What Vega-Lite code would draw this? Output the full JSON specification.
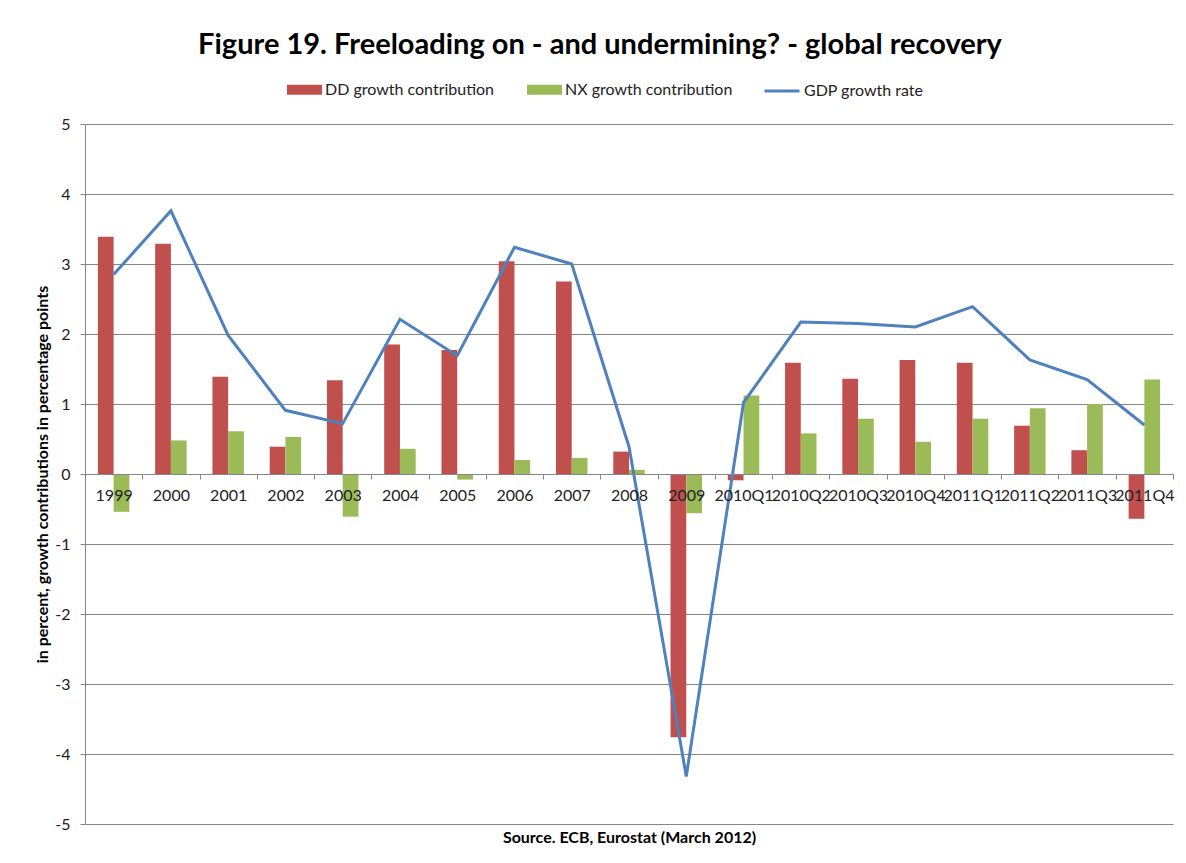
{
  "$schema": "https://vega.github.io/schema/vega-lite/v6.json",
  "autosize": {"type": "none"},
  "width": 1088,
  "height": 700,
  "padding": {"left": 85, "top": 124, "right": 13, "bottom": 39},
  "background": "white",
  "title": {
    "text": "Figure 19. Freeloading on - and undermining? - global recovery",
    "font": "Lato",
    "fontSize": 29,
    "fontWeight": "bold",
    "color": "#000000",
    "anchor": "middle",
    "dx": -29,
    "offset": 12
  },
  "data": {
    "values": [
      {"period": "1999", "series": "DD growth contribution", "value": 3.39},
      {"period": "2000", "series": "DD growth contribution", "value": 3.29},
      {"period": "2001", "series": "DD growth contribution", "value": 1.39},
      {"period": "2002", "series": "DD growth contribution", "value": 0.39},
      {"period": "2003", "series": "DD growth contribution", "value": 1.34},
      {"period": "2004", "series": "DD growth contribution", "value": 1.85},
      {"period": "2005", "series": "DD growth contribution", "value": 1.77},
      {"period": "2006", "series": "DD growth contribution", "value": 3.04},
      {"period": "2007", "series": "DD growth contribution", "value": 2.75},
      {"period": "2008", "series": "DD growth contribution", "value": 0.32},
      {"period": "2009", "series": "DD growth contribution", "value": -3.76},
      {"period": "2010Q1", "series": "DD growth contribution", "value": -0.09},
      {"period": "2010Q2", "series": "DD growth contribution", "value": 1.59},
      {"period": "2010Q3", "series": "DD growth contribution", "value": 1.36},
      {"period": "2010Q4", "series": "DD growth contribution", "value": 1.63},
      {"period": "2011Q1", "series": "DD growth contribution", "value": 1.59},
      {"period": "2011Q2", "series": "DD growth contribution", "value": 0.69},
      {"period": "2011Q3", "series": "DD growth contribution", "value": 0.34},
      {"period": "2011Q4", "series": "DD growth contribution", "value": -0.64},
      {"period": "1999", "series": "NX growth contribution", "value": -0.54},
      {"period": "2000", "series": "NX growth contribution", "value": 0.48},
      {"period": "2001", "series": "NX growth contribution", "value": 0.61},
      {"period": "2002", "series": "NX growth contribution", "value": 0.53},
      {"period": "2003", "series": "NX growth contribution", "value": -0.61},
      {"period": "2004", "series": "NX growth contribution", "value": 0.36},
      {"period": "2005", "series": "NX growth contribution", "value": -0.08},
      {"period": "2006", "series": "NX growth contribution", "value": 0.2},
      {"period": "2007", "series": "NX growth contribution", "value": 0.23},
      {"period": "2008", "series": "NX growth contribution", "value": 0.06},
      {"period": "2009", "series": "NX growth contribution", "value": -0.56},
      {"period": "2010Q1", "series": "NX growth contribution", "value": 1.12},
      {"period": "2010Q2", "series": "NX growth contribution", "value": 0.58},
      {"period": "2010Q3", "series": "NX growth contribution", "value": 0.79},
      {"period": "2010Q4", "series": "NX growth contribution", "value": 0.46},
      {"period": "2011Q1", "series": "NX growth contribution", "value": 0.79},
      {"period": "2011Q2", "series": "NX growth contribution", "value": 0.94},
      {"period": "2011Q3", "series": "NX growth contribution", "value": 1.0},
      {"period": "2011Q4", "series": "NX growth contribution", "value": 1.35},
      {"period": "1999", "series": "GDP growth rate", "value": 2.85},
      {"period": "2000", "series": "GDP growth rate", "value": 3.76},
      {"period": "2001", "series": "GDP growth rate", "value": 1.98},
      {"period": "2002", "series": "GDP growth rate", "value": 0.91},
      {"period": "2003", "series": "GDP growth rate", "value": 0.72},
      {"period": "2004", "series": "GDP growth rate", "value": 2.21},
      {"period": "2005", "series": "GDP growth rate", "value": 1.69},
      {"period": "2006", "series": "GDP growth rate", "value": 3.24},
      {"period": "2007", "series": "GDP growth rate", "value": 3.0},
      {"period": "2008", "series": "GDP growth rate", "value": 0.39},
      {"period": "2009", "series": "GDP growth rate", "value": -4.32},
      {"period": "2010Q1", "series": "GDP growth rate", "value": 1.02},
      {"period": "2010Q2", "series": "GDP growth rate", "value": 2.17},
      {"period": "2010Q3", "series": "GDP growth rate", "value": 2.15},
      {"period": "2010Q4", "series": "GDP growth rate", "value": 2.1},
      {"period": "2011Q1", "series": "GDP growth rate", "value": 2.39},
      {"period": "2011Q2", "series": "GDP growth rate", "value": 1.63},
      {"period": "2011Q3", "series": "GDP growth rate", "value": 1.35},
      {"period": "2011Q4", "series": "GDP growth rate", "value": 0.7}
    ]
  },
  "encoding": {
    "x": {
      "field": "period",
      "type": "nominal",
      "sort": null,
      "scale": {"paddingInner": 0, "paddingOuter": 0},
      "axis": {
        "orient": "bottom",
        "offset": -350,
        "zindex": 1,
        "title": "Source. ECB, Eurostat (March 2012)",
        "titleFont": "Lato",
        "titleFontSize": 16,
        "titleFontWeight": "bold",
        "titleColor": "#000000",
        "titleBaseline": "middle",
        "titleY": 363,
        "labelAngle": 0,
        "labelFont": "Lato",
        "labelFontSize": 16,
        "labelColor": "#222222",
        "labelOverlap": false,
        "labelBound": false,
        "labelFlush": false,
        "labelPadding": 8,
        "domainColor": "#868686",
        "tickColor": "#868686",
        "tickSize": 5,
        "tickBand": "extent",
        "grid": false
      }
    },
    "y": {
      "field": "value",
      "type": "quantitative",
      "scale": {"domain": [-5, 5], "nice": false, "zero": false},
      "axis": {
        "values": [-5, -4, -3, -2, -1, 0, 1, 2, 3, 4, 5],
        "title": "in percent, growth contributions in percentage points",
        "titleFont": "Lato",
        "titleFontSize": 16,
        "titleFontWeight": "bold",
        "titleColor": "#000000",
        "titleX": -43,
        "titleY": 350,
        "titleAngle": -90,
        "titleBaseline": "middle",
        "titleAlign": "center",
        "labelFont": "Lato",
        "labelFontSize": 16,
        "labelColor": "#222222",
        "labelPadding": 10,
        "labelExpr": "'' + datum.value",
        "grid": true,
        "gridColor": "#868686",
        "gridWidth": 1,
        "domainColor": "#868686",
        "tickColor": "#868686",
        "tickSize": 5
      }
    }
  },
  "layer": [
    {
      "transform": [{"filter": "datum.series !== 'GDP growth rate'"}],
      "mark": {"type": "bar", "opacity": 1},
      "encoding": {
        "xOffset": {
          "field": "series",
          "type": "nominal",
          "scale": {"domain": ["DD growth contribution", "NX growth contribution"], "paddingInner": 0, "paddingOuter": 0.82}
        },
        "fill": {
          "field": "series",
          "type": "nominal",
          "scale": {
            "domain": ["DD growth contribution", "NX growth contribution"],
            "range": ["#C0504D", "#9BBB59"]
          },
          "legend": {
            "orient": "none",
            "direction": "horizontal",
            "legendX": 202,
            "legendY": -52,
            "title": null,
            "symbolType": "M-1,-0.29H1V0.29H-1Z",
            "symbolSize": 1225,
            "symbolStrokeWidth": 0,
            "symbolOpacity": 1,
            "labelOffset": 3,
            "columnPadding": 32,
            "labelLimit": 0,
            "labelFont": "Lato",
            "labelFontSize": 16,
            "labelColor": "#222222"
          }
        }
      }
    },
    {
      "transform": [{"filter": "datum.series === 'GDP growth rate'"}],
      "mark": {"type": "line", "strokeWidth": 3, "opacity": 1},
      "encoding": {
        "stroke": {
          "field": "series",
          "type": "nominal",
          "scale": {"domain": ["GDP growth rate"], "range": ["#4F81BD"]},
          "legend": {
            "orient": "none",
            "direction": "horizontal",
            "legendX": 678,
            "legendY": -52,
            "title": null,
            "symbolType": "stroke",
            "symbolSize": 1225,
            "symbolStrokeWidth": 3,
            "symbolOpacity": 1,
            "labelOffset": 3,
            "labelLimit": 0,
            "labelFont": "Lato",
            "labelFontSize": 16,
            "labelColor": "#222222"
          }
        }
      }
    }
  ],
  "resolve": {"scale": {"fill": "independent", "stroke": "independent"}, "legend": {"fill": "independent", "stroke": "independent"}},
  "config": {
    "view": {"stroke": null}
  }
}
